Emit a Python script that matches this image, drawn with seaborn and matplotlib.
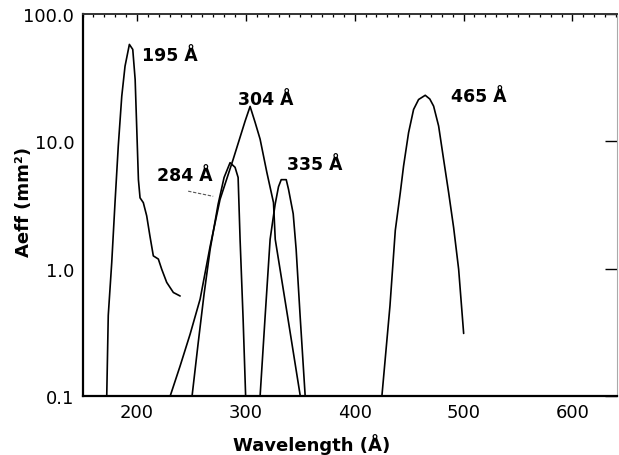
import pandas as pd
import matplotlib
matplotlib.use("Agg")
import matplotlib.pyplot as plt
import seaborn as sns
from matplotlib.ticker import MultipleLocator, FixedLocator, FixedFormatter, LogLocator, NullFormatter

# ---- data ----
wl_195 = [172.2, 173.6, 176.8, 179.8, 182.8, 186.0, 189.0, 193.0, 196.1, 198.3, 199.8,
          201.3, 202.8, 205.8, 208.9, 211.9, 215.0, 219.6, 222.7, 227.3, 233.4, 239.6]
aeff_195 = [0.1, 0.43, 1.12, 3.3, 9.2, 22.6, 38.9, 57.7, 52.7, 30.6, 12.4,
            5.0, 3.6, 3.3, 2.6, 1.8, 1.26, 1.19, 0.99, 0.78, 0.65, 0.61]

wl_284 = [250.6, 256.1, 261.6, 267.2, 274.5, 280.0, 285.5, 290.1, 292.9, 294.7, 297.5, 299.8]
aeff_284 = [0.1, 0.256, 0.63, 1.42, 3.2, 5.2, 6.8, 6.25, 5.2, 1.7, 0.40, 0.1]

wl_304 = [230.5, 239.6, 248.8, 258.0, 267.2, 276.3, 288.3, 299.3, 303.9, 308.5, 313.1,
          319.3, 325.4, 327.0, 338.4, 350.0]
aeff_304 = [0.1, 0.172, 0.306, 0.577, 1.5, 3.5, 7.2, 14.4, 18.8, 14.1, 10.4,
            5.7, 3.3, 1.7, 0.42, 0.1]

wl_335 = [313.1, 317.7, 322.3, 326.9, 330.0, 332.5, 337.1, 339.2, 343.5, 346.2, 349.9, 354.5]
aeff_335 = [0.1, 0.42, 1.7, 3.2, 4.4, 5.0, 5.0, 4.2, 2.7, 1.42, 0.42, 0.1]

wl_465 = [425.0, 432.4, 437.3, 441.9, 444.9, 449.5, 454.1, 458.7, 464.8, 469.0, 472.5,
          477.1, 481.7, 486.3, 490.9, 495.5, 500.1]
aeff_465 = [0.1, 0.51, 2.0, 3.96, 6.4, 11.7, 17.8, 21.3, 23.0, 21.5, 18.9,
            13.2, 7.2, 3.96, 2.1, 0.99, 0.31]

band_names = ["195 Å", "284 Å", "304 Å", "335 Å", "465 Å"]
label_x = [204.3, 218.4, 292.9, 337.7, 488.5]
label_y = [47.3, 5.4, 21.5, 6.6, 22.6]

leader_x = [247.0, 270.0]
leader_y = [4.06, 3.7]

x_ticks = [200, 300, 400, 500, 600]
x_tick_labels = ["200", "300", "400", "500", "600"]
y_ticks = [0.1, 1.0, 10.0, 100.0]
y_tick_labels = ["0.1", "1.0", "10.0", "100.0"]

# ---- build long table ----
curves = [wl_195, wl_284, wl_304, wl_335, wl_465]
values = [aeff_195, aeff_284, aeff_304, aeff_335, aeff_465]
frames = []
for name, w, a in zip(band_names, curves, values):
    frames.append(pd.DataFrame({"wl": w, "aeff": a, "band": name}))
df = pd.concat(frames, ignore_index=True)

sns.set_style("white")
plt.rcParams["font.family"] = ["DejaVu Sans"]
plt.rcParams["text.color"] = "black"
plt.rcParams["axes.labelcolor"] = "black"
plt.rcParams["xtick.color"] = "black"
plt.rcParams["ytick.color"] = "black"

fig = plt.figure(figsize=(6.19, 4.56), dpi=100)
ax = fig.add_axes([0.1334, 0.1294, 0.8634, 0.8377])

sns.lineplot(data=df, x="wl", y="aeff", units="band", estimator=None, sort=False,
             color="black", linewidth=1.2, legend=False, ax=ax)

ax.set_yscale("log")
ax.set_xlim(150, 641)
ax.set_ylim(0.1, 100)

ax.xaxis.set_major_locator(FixedLocator(x_ticks))
ax.xaxis.set_major_formatter(FixedFormatter(x_tick_labels))
ax.xaxis.set_minor_locator(MultipleLocator(10))
ax.yaxis.set_major_locator(FixedLocator(y_ticks))
ax.yaxis.set_major_formatter(FixedFormatter(y_tick_labels))
ax.yaxis.set_minor_locator(LogLocator(base=10, subs=range(2, 10)))
ax.yaxis.set_minor_formatter(NullFormatter())

ax.tick_params(axis="both", which="both", direction="in", top=True,
               colors="black", labelsize=13)
ax.tick_params(axis="y", which="major", length=8.5, width=1.0, pad=6, right=True)
ax.tick_params(axis="y", which="minor", length=4.5, width=0.9, right=False)
ax.tick_params(axis="x", which="major", length=5, width=1.0, pad=5)
ax.tick_params(axis="x", which="minor", length=2.5, width=0.9)

for side in ["left", "bottom"]:
    ax.spines[side].set_linewidth(1.6)
    ax.spines[side].set_color("black")
ax.spines["top"].set_linewidth(1.4)
ax.spines["top"].set_color("#333333")
ax.spines["right"].set_linewidth(0.8)
ax.spines["right"].set_color("#aaaaaa")

ax.set_xlabel("Wavelength (Å)", fontsize=13, fontweight="bold", color="black")
ax.set_ylabel("Aeff (mm²)", fontsize=13, fontweight="bold", color="black")
ax.xaxis.set_label_coords(0.429, -0.097)
ax.yaxis.set_label_coords(-0.092, 0.51)

for txt, lx, ly in zip(band_names, label_x, label_y):
    ax.text(lx, ly, txt, fontsize=12.5, fontweight="bold", ha="left", va="center",
            color="black")

ax.plot(leader_x, leader_y, color="#555555", linewidth=0.8, linestyle=(0, (3, 1.5)))

fig.savefig("out.png", dpi=100)
